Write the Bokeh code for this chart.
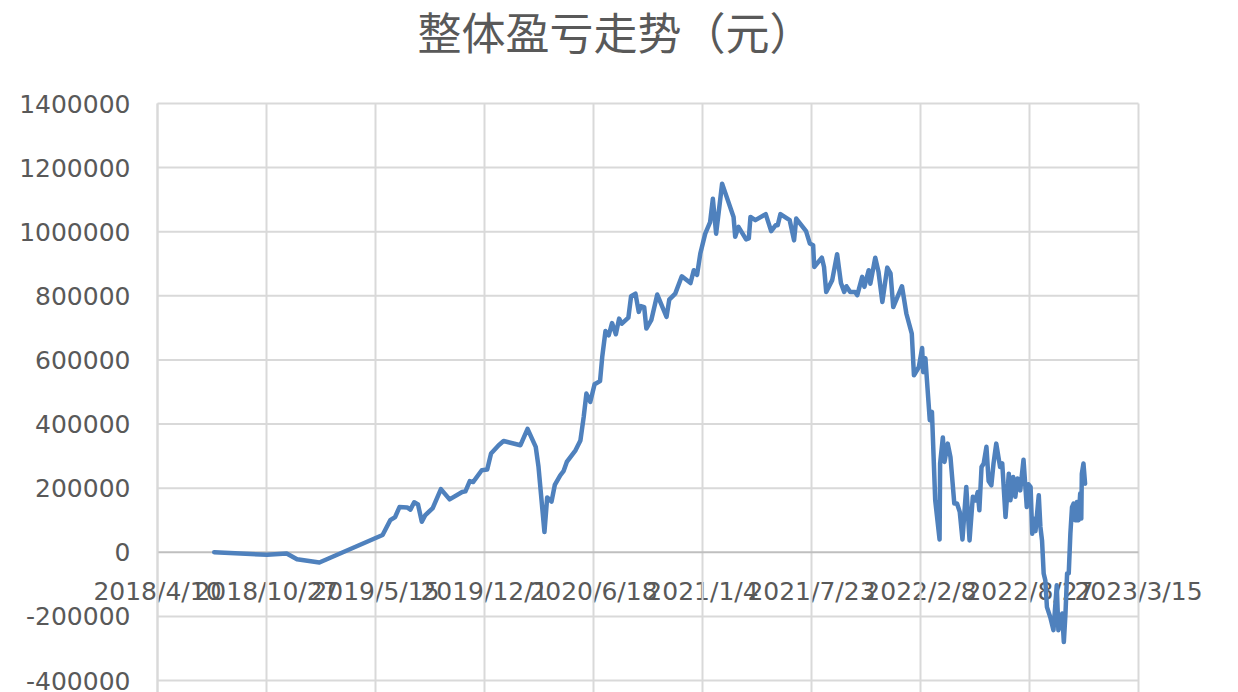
import pandas as pd
from bokeh.plotting import figure
from bokeh.models import Range1d, FixedTicker, NumeralTickFormatter, Label
from bokeh.embed import file_html
from bokeh.resources import INLINE

title_text = "整体盈亏走势（元）"

x_tick_dates = ["2018-04-10", "2018-10-27", "2019-05-15", "2019-12-01", "2020-06-18",
                "2021-01-04", "2021-07-23", "2022-02-08", "2022-08-27", "2023-03-15"]
x_tick_labels = ["2018/4/10", "2018/10/27", "2019/5/15", "2019/12/1", "2020/6/18",
                 "2021/1/4", "2021/7/23", "2022/2/8", "2022/8/27", "2023/3/15"]
y_ticks = [-400000, -200000, 0, 200000, 400000, 600000, 800000,
           1000000, 1200000, 1400000]

dates = [
    "2018-07-23", "2018-10-28", "2018-12-03", "2018-12-22", "2019-02-01", "2019-05-28", "2019-06-11", "2019-06-20", "2019-06-28", "2019-07-12",
    "2019-07-18", "2019-07-25", "2019-08-01", "2019-08-08", "2019-08-14", "2019-08-28", "2019-09-12", "2019-09-28", "2019-10-21", "2019-10-27",
    "2019-11-04", "2019-11-10", "2019-11-26", "2019-12-06", "2019-12-13", "2019-12-27", "2020-01-05", "2020-02-05", "2020-02-18", "2020-03-04",
    "2020-03-09", "2020-03-20", "2020-03-25", "2020-04-02", "2020-04-08", "2020-04-18", "2020-04-24", "2020-04-30", "2020-05-16", "2020-05-25",
    "2020-05-31", "2020-06-05", "2020-06-12", "2020-06-20", "2020-06-30", "2020-07-04", "2020-07-10", "2020-07-16", "2020-07-22", "2020-07-29",
    "2020-08-04", "2020-08-09", "2020-08-21", "2020-08-26", "2020-09-03", "2020-09-09", "2020-09-13", "2020-09-19", "2020-09-23", "2020-10-02",
    "2020-10-13", "2020-10-30", "2020-11-04", "2020-11-15", "2020-11-27", "2020-12-13", "2020-12-19", "2020-12-25", "2020-12-31", "2021-01-09",
    "2021-01-18", "2021-01-23", "2021-01-29", "2021-02-09", "2021-03-02", "2021-03-05", "2021-03-11", "2021-03-25", "2021-03-30", "2021-04-02",
    "2021-04-11", "2021-04-30", "2021-05-10", "2021-05-18", "2021-05-22", "2021-05-27", "2021-06-13", "2021-06-21", "2021-06-25", "2021-07-13",
    "2021-07-20", "2021-07-26", "2021-07-28", "2021-08-11", "2021-08-15", "2021-08-19", "2021-08-30", "2021-09-08", "2021-09-15", "2021-09-21",
    "2021-09-25", "2021-10-02", "2021-10-11", "2021-10-15", "2021-10-24", "2021-10-28", "2021-11-05", "2021-11-08", "2021-11-17", "2021-11-23",
    "2021-11-30", "2021-12-09", "2021-12-15", "2021-12-20", "2022-01-05", "2022-01-13", "2022-01-23", "2022-01-27", "2022-02-05", "2022-02-11",
    "2022-02-13", "2022-02-17", "2022-02-25", "2022-03-01", "2022-03-07", "2022-03-15", "2022-03-16", "2022-03-21", "2022-03-24", "2022-03-30",
    "2022-04-04", "2022-04-11", "2022-04-16", "2022-04-21", "2022-04-26", "2022-05-03", "2022-05-09", "2022-05-15", "2022-05-20", "2022-05-24",
    "2022-05-27", "2022-05-31", "2022-06-04", "2022-06-09", "2022-06-13", "2022-06-18", "2022-06-22", "2022-06-27", "2022-07-04", "2022-07-08",
    "2022-07-14", "2022-07-20", "2022-07-23", "2022-07-28", "2022-08-01", "2022-08-05", "2022-08-10", "2022-08-16", "2022-08-22", "2022-08-25",
    "2022-08-29", "2022-09-01", "2022-09-04", "2022-09-07", "2022-09-13", "2022-09-16", "2022-09-19", "2022-09-22", "2022-09-25", "2022-09-28",
    "2022-10-04", "2022-10-10", "2022-10-16", "2022-10-19", "2022-10-26", "2022-10-29", "2022-11-01", "2022-11-04", "2022-11-07", "2022-11-10",
    "2022-11-13", "2022-11-16", "2022-11-19", "2022-11-22", "2022-11-25", "2022-11-28", "2022-11-30", "2022-12-01", "2022-12-04", "2022-12-07",
]

profit = [
    0, -8000, -4000, -22000, -32000, 54000, 100000, 110000, 141000, 140000,
    133000, 156000, 149000, 95000, 115000, 138000, 197000, 165000, 188000, 190000,
    222000, 219000, 256000, 258000, 308000, 334000, 347000, 334000, 385000, 329000,
    268000, 63000, 171000, 158000, 210000, 240000, 253000, 282000, 318000, 349000,
    422000, 495000, 469000, 524000, 534000, 609000, 690000, 677000, 715000, 680000,
    729000, 713000, 732000, 799000, 807000, 750000, 768000, 765000, 698000, 724000,
    804000, 734000, 788000, 807000, 861000, 840000, 880000, 865000, 932000, 994000,
    1030000, 1103000, 994000, 1150000, 1046000, 984000, 1015000, 976000, 979000, 1046000,
    1036000, 1055000, 1002000, 1020000, 1020000, 1055000, 1036000, 973000, 1041000, 1002000,
    963000, 958000, 890000, 919000, 890000, 812000, 849000, 930000, 840000, 812000,
    830000, 812000, 812000, 802000, 859000, 828000, 880000, 838000, 919000, 874000,
    781000, 888000, 870000, 765000, 830000, 745000, 682000, 552000, 578000, 637000,
    562000, 605000, 412000, 438000, 162000, 40000, 277000, 358000, 282000, 339000,
    297000, 152000, 152000, 126000, 40000, 204000, 37000, 173000, 162000, 188000,
    131000, 266000, 277000, 329000, 222000, 209000, 277000, 339000, 266000, 277000,
    110000, 245000, 162000, 235000, 173000, 230000, 193000, 289000, 141000, 212000,
    204000, 58000, 105000, 66000, 178000, 79000, 37000, -66000, -87000, -171000,
    -202000, -243000, -103000, -243000, -191000, -280000, -191000, -66000, -66000, 58000,
    141000, 152000, 100000, 157000, 100000, 183000, 105000, 245000, 277000, 214000,
]

x = pd.to_datetime(dates)
tick_ms = [int(t.timestamp() * 1000) for t in pd.to_datetime(x_tick_dates)]

TEXT = "#595959"
GRID = "#D9D9D9"
ZERO = "#BFBFBF"
FONT = "DejaVu Sans"

# canvas / plot-area geometry (pixels)
W, H = 1230, 692
PL, PR, PT, PB = 157, 1138, 103, 680   # plot-area edges: first/last x tick, top/bottom y tick

mpp_x = (tick_ms[-1] - tick_ms[0]) / (PR - PL)
mpp_y = (y_ticks[-1] - y_ticks[0]) / (PB - PT)
x_start = tick_ms[0] - PL * mpp_x
x_end = tick_ms[0] + (W - PL) * mpp_x
y_end = y_ticks[-1] + PT * mpp_y
y_start = y_ticks[-1] - (H - PT) * mpp_y

p = figure(width=W, height=H, x_axis_type="datetime",
           x_range=Range1d(x_start, x_end), y_range=Range1d(y_start, y_end),
           output_backend="svg", toolbar_location=None,
           min_border_left=0, min_border_right=0,
           min_border_top=0, min_border_bottom=0)
p.outline_line_color = None
p.background_fill_color = "white"
p.border_fill_color = "white"
p.xgrid.visible = False
p.ygrid.visible = False

# gridlines of the plot area
p.segment(x0=tick_ms, y0=[y_start] * len(tick_ms), x1=tick_ms,
          y1=[y_ticks[-1]] * len(tick_ms), line_color=GRID, line_width=2)
p.segment(x0=[tick_ms[0]] * len(y_ticks), y0=y_ticks,
          x1=[tick_ms[-1]] * len(y_ticks), y1=y_ticks,
          line_color=[ZERO if v == 0 else GRID for v in y_ticks], line_width=2)

# x axis: on the zero line, labels below it
xa = p.xaxis[0]
xa.fixed_location = 0
xa.ticker = FixedTicker(ticks=tick_ms)
xa.major_label_overrides = {t: lab for t, lab in zip(tick_ms, x_tick_labels)}
xa.major_label_text_font = FONT
xa.major_label_text_font_size = "25px"
xa.major_label_text_color = TEXT
xa.axis_line_color = None
xa.major_tick_line_color = None
xa.minor_tick_line_color = None
xa.major_label_standoff = 19
xa.level = "underlay"

# y axis: at the first date
ya = p.yaxis[0]
ya.fixed_location = tick_ms[0]
ya.bounds = (y_start, y_ticks[-1])
ya.ticker = FixedTicker(ticks=y_ticks)
ya.formatter = NumeralTickFormatter(format="0")
ya.major_label_text_font = FONT
ya.major_label_text_font_size = "25px"
ya.major_label_text_color = TEXT
ya.axis_line_color = GRID
ya.axis_line_width = 2
ya.major_tick_line_color = None
ya.minor_tick_line_color = None
ya.major_label_standoff = 21

p.line(x, profit, line_color="#4F81BD", line_width=4.5,
       line_join="round", line_cap="round")

title = Label(x=x_start + 615 * mpp_x, y=y_end - 30 * mpp_y, text=title_text,
              text_align="center", text_baseline="middle",
              text_font="Noto Sans CJK SC", text_font_size="44px",
              text_color=TEXT)
p.add_layout(title)

open("out.html", "w").write(file_html(p, INLINE))
